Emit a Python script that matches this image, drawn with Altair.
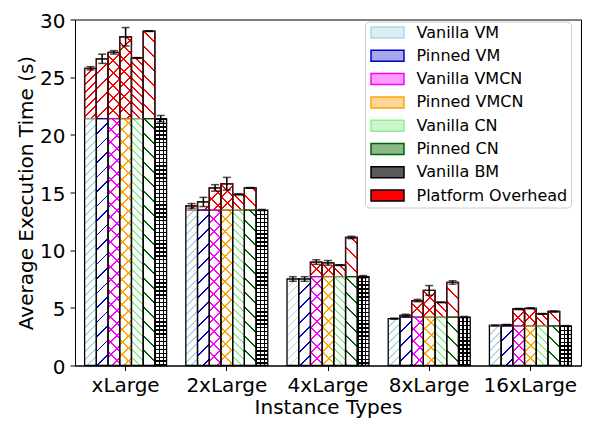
import altair as alt
import pandas as pd

# ---------------- data ----------------
instances = ["xLarge", "2xLarge", "4xLarge", "8xLarge", "16xLarge"]
configs = ["Vanilla VM", "Pinned VM", "Vanilla VMCN", "Pinned VMCN",
           "Vanilla CN", "Pinned CN", "Vanilla BM"]
overhead_name = "Platform Overhead"

vanilla_vm = [25.77, 13.84, 7.50, 4.06, 3.47]
pinned_vm = [26.59, 14.18, 7.50, 4.34, 3.52]
vanilla_vmcn = [27.15, 15.40, 8.97, 5.63, 4.90]
pinned_vmcn = [28.50, 15.76, 8.90, 6.51, 4.96]
vanilla_cn = [26.67, 14.83, 8.70, 5.47, 4.48]
pinned_cn = [28.99, 15.40, 11.10, 7.20, 4.68]
vanilla_bm = [21.40, 13.48, 7.70, 4.20, 3.43]

vanilla_vm_err = [0.14, 0.20, 0.20, 0.05, 0.03]
pinned_vm_err = [0.40, 0.40, 0.20, 0.10, 0.04]
vanilla_vmcn_err = [0.15, 0.28, 0.20, 0.10, 0.05]
pinned_vmcn_err = [0.80, 0.55, 0.20, 0.42, 0.05]
vanilla_cn_err = [0.03, 0.05, 0.03, 0.03, 0.03]
pinned_cn_err = [0.03, 0.03, 0.10, 0.15, 0.05]
vanilla_bm_err = [0.28, 0.05, 0.10, 0.05, 0.03]

series = [vanilla_vm, pinned_vm, vanilla_vmcn, pinned_vmcn, vanilla_cn, pinned_cn, vanilla_bm]
errors = [vanilla_vm_err, pinned_vm_err, vanilla_vmcn_err, pinned_vmcn_err,
          vanilla_cn_err, pinned_cn_err, vanilla_bm_err]

rows = []
for c, vals, errs in zip(configs, series, errors):
    for i, inst in enumerate(instances):
        v, e, base = vals[i], errs[i], vanilla_bm[i]
        rows.append(dict(inst=inst, config=c, seg=c, part="bottom", y0=0.0,
                         y1=min(v, base), v=v, base=base, lo=v - e, hi=v + e))
        if v - base > 0.02:
            rows.append(dict(inst=inst, config=c, seg=overhead_name, part="over", y0=base,
                             y1=v, v=v, base=base, lo=v - e, hi=v + e))
df = pd.DataFrame(rows)

# ---------------- styles ----------------
W, H = 506, 346
PI, PO = 0.19, 0.095
STEP = W / (len(instances) - PI + 2 * PO)
BW = STEP * (1 - PI) / len(configs)   # one bar's pixel width
PXU = H / 30.0                         # pixels per second
LW = 1.4                               # hatch line width

hatch_colors = {"Vanilla VM": "#add8e6", "Pinned VM": "#0000cd", "Vanilla VMCN": "#ff00ff",
                "Pinned VMCN": "#ffa500", "Vanilla CN": "#90ee90", "Pinned CN": "#006400",
                "Vanilla BM": "#000000"}
hatch_period = {"Vanilla VM": 8, "Pinned VM": 14.5, "Vanilla VMCN": 12.5, "Pinned VMCN": 12.5,
                "Vanilla CN": 8, "Pinned CN": 14.5, "Vanilla BM": 3.9}
legend_labels = configs + [overhead_name]
legend_fills = ["#d9eef5", "#a8a8ee", "#ff9cff", "#ffd699", "#ccf6cc", "#8ab98a", "#5a5a5a", "#ff0000"]
legend_strokes = ["#add8e6", "#0000cd", "#ff00ff", "#ffa500", "#90ee90", "#006400", "#000000", "#000000"]


def ternary(mapping, fallback):
    expr = fallback
    for k, val in reversed(list(mapping.items())):
        expr = f"datum.config==='{k}' ? {val} : ({expr})"
    return expr


color_expr = "datum.part==='over' ? '#ff0000' : (" + ternary(
    {k: f"'{v}'" for k, v in hatch_colors.items()}, "'#000000'") + ")"
period_expr = ternary({k: str(v) for k, v in hatch_period.items()}, "8")


def stops(M):
    T = "'rgba(255,255,255,0)'"
    parts = []
    for i in range(M):
        a, b = i / M, (i + 1) / M
        parts += [f"{{offset:{a:.5f},color:datum.hc}}",
                  f"{{offset:{a:.5f}+datum.fo,color:datum.hc}}",
                  f"{{offset:{a:.5f}+datum.fo,color:{T}}}",
                  f"{{offset:{b:.5f},color:{T}}}"]
    return "[" + ",".join(parts) + "]"


YT = "Average Execution Time (s)"
X = alt.X("inst:N", sort=instances,
          scale=alt.Scale(paddingInner=PI, paddingOuter=PO),
          axis=alt.Axis(title="Instance Types", labelAngle=0, titlePadding=2))
XO = alt.XOffset("config:N", sort=configs, scale=alt.Scale(paddingInner=0, paddingOuter=0))


def Y(field):
    return alt.Y(f"{field}:Q", title=YT,
                 scale=alt.Scale(domain=[0, 30], nice=False, zero=True),
                 axis=alt.Axis(values=[0, 5, 10, 15, 20, 25, 30], grid=False, labelOffset=1.5,
                               titleX=-39, titleY=H / 2))


base = alt.Chart(df)


def hatch_layer(kind, members, M):
    sel = " || ".join(f"datum.config==='{m}'" for m in members)
    factor = 1.41421356 if kind in ("fwd", "back") else 1.0
    den = f"({BW:.4f}*{BW:.4f}+datum.hp*datum.hp)"
    if kind == "fwd":
        geo = (f"x1:0,y1:0,x2:datum.V*{M}*{BW:.4f}/{den},"
               f"y2:datum.V*{M}*datum.hp/{den}")
    elif kind == "back":
        geo = (f"x1:0,y1:1,x2:datum.V*{M}*{BW:.4f}/{den},"
               f"y2:1-datum.V*{M}*datum.hp/{den}")
    elif kind == "h":
        geo = f"x1:0,y1:0,x2:0,y2:datum.V*{M}/datum.hp"
    else:
        geo = f"x1:0,y1:0,x2:datum.V*{M}/{BW:.4f},y2:0"
    grad = "{gradient:'linear'," + geo + ",stops:" + stops(M) + "}"
    return (base
            .transform_filter(f"({sel}) && (datum.y1 - datum.y0 > 0.001)")
            .transform_calculate(hc=color_expr)
            .transform_calculate(V=period_expr)
            .transform_calculate(hp=f"(datum.y1 - datum.y0) * {PXU:.5f}")
            .transform_calculate(fo=f"{LW * factor:.4f} / datum.V / {M}")
            .transform_calculate(g=grad)
            .mark_bar(strokeWidth=0)
            .encode(x=X, xOffset=XO, y=Y("y0"), y2=alt.Y2("y1"),
                    fill=alt.Fill("g:N", scale=None)))


fwd = hatch_layer("fwd", ["Vanilla VM", "Pinned VM", "Vanilla VMCN", "Pinned VMCN"], 40)
back = hatch_layer("back", ["Vanilla VMCN", "Pinned VMCN", "Vanilla CN", "Pinned CN"], 40)
hor = hatch_layer("h", ["Vanilla BM"], 72)
ver = hatch_layer("v", ["Vanilla BM"], 5)

full_outline = (base.transform_filter("datum.part==='bottom'")
                .mark_bar(fillOpacity=0, stroke="black", strokeWidth=1.3)
                .encode(x=X, xOffset=XO, y=Y("y0"), y2=alt.Y2("v")))

over_outline = (base.transform_filter("datum.part==='over'")
                .mark_bar(fillOpacity=0, stroke="#4a1010", strokeWidth=1.3)
                .encode(x=X, xOffset=XO, y=Y("y0"), y2=alt.Y2("y1")))

junction = (base.transform_filter("datum.part==='over'")
            .transform_calculate(hc=ternary({k: f"'{v}'" for k, v in hatch_colors.items()}, "'#000'"))
            .mark_tick(thickness=1.3, size=BW - 1.3)
            .encode(x=X, xOffset=XO, y=Y("y0"), color=alt.Color("hc:N", scale=None)))

err_rule = (base.transform_filter("datum.part==='bottom'")
            .mark_rule(color="black", strokeWidth=1.5)
            .encode(x=X, xOffset=XO, y=Y("lo"), y2=alt.Y2("hi")))
cap_lo = (base.transform_filter("datum.part==='bottom'")
          .mark_tick(color="black", thickness=1.5, size=8)
          .encode(x=X, xOffset=XO, y=Y("lo")))
cap_hi = (base.transform_filter("datum.part==='bottom'")
          .mark_tick(color="black", thickness=1.5, size=8)
          .encode(x=X, xOffset=XO, y=Y("hi")))

LEG = alt.Legend(title=None, orient="none", legendX=290, legendY=2, padding=3,
                 symbolType="M-2.5,-0.833H2.5V0.833H-2.5Z", symbolSize=174,
                 symbolStrokeWidth=1.5, symbolOffset=11.5, symbolOpacity=1,
                 labelOffset=21, labelFontSize=16, labelFont="DejaVu Sans",
                 labelColor="black", rowPadding=5.3, fillColor="white",
                 strokeColor="#cccccc", cornerRadius=4, labelLimit=300)

legend_layer = (base.transform_filter("false")
                .mark_bar(strokeWidth=1.5)
                .encode(x=X, xOffset=XO, y=Y("y1"),
                        fill=alt.Fill("seg:N", scale=alt.Scale(domain=legend_labels, range=legend_fills), legend=LEG),
                        stroke=alt.Stroke("seg:N", scale=alt.Scale(domain=legend_labels, range=legend_strokes), legend=LEG)))

chart = (alt.layer(fwd, back, hor, ver, full_outline, over_outline, junction,
                   err_rule, cap_lo, cap_hi, legend_layer)
         .properties(width=W, height=H, autosize=alt.AutoSizeParams(type="none"),
                     padding={"left": 67, "top": 11.5, "right": 6, "bottom": 58})
         .configure_view(stroke="black", strokeWidth=1)
         .configure_axis(labelFont="DejaVu Sans", titleFont="DejaVu Sans",
                         labelFontSize=20, titleFontSize=20, titleFontWeight="normal",
                         labelColor="black", titleColor="black", domainColor="black",
                         tickColor="black", tickSize=5, labelPadding=5,
                         domainWidth=1, tickWidth=1))

chart.save("out.html", embed_options={"renderer": "svg", "actions": False})
